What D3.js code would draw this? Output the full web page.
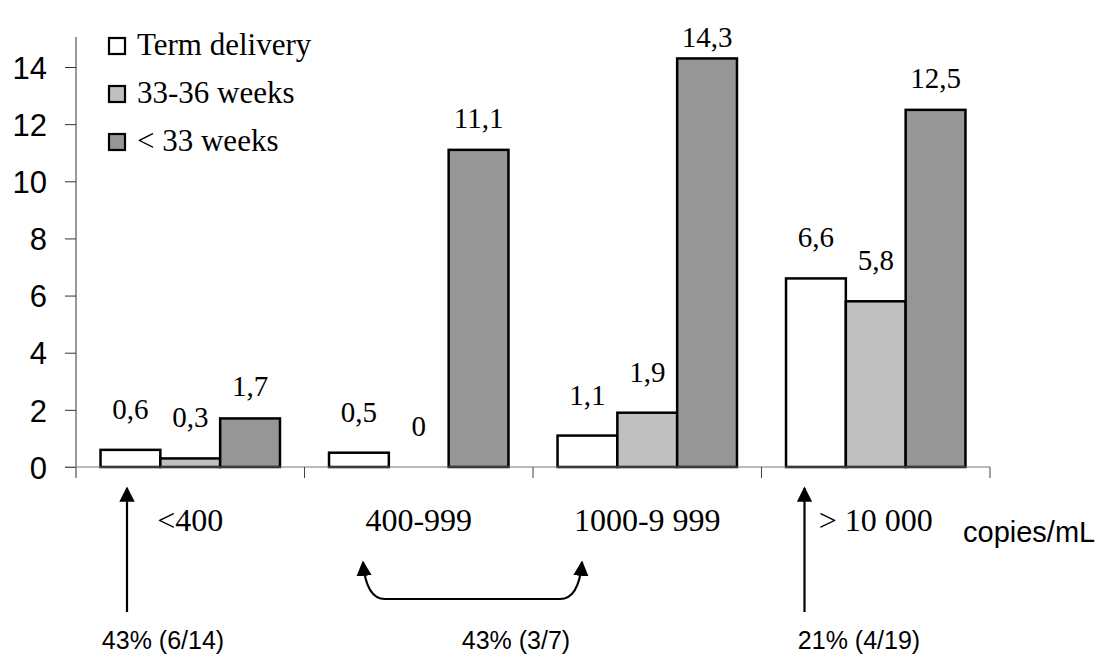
<!DOCTYPE html>
<html><head><meta charset="utf-8">
<script src="https://cdn.jsdelivr.net/npm/d3@7"></script>
<style>body{margin:0;background:#fff}svg{display:block}</style>
</head><body>
<svg id="c" width="1105" height="657"></svg>
<script>
const categories = ["<400", "400-999", "1000-9 999", "> 10 000"];
const seriesNames = ["Term delivery", "33-36 weeks", "< 33 weeks"];
const termDelivery = [0.6, 0.5, 1.1, 6.6];
const weeks33to36 = [0.3, 0, 1.9, 5.8];
const under33 = [1.7, 11.1, 14.3, 12.5];
const yTicks = [0, 2, 4, 6, 8, 10, 12, 14];
const annotations = ["43% (6/14)", "43% (3/7)", "21% (4/19)"];
const unitLabel = "copies/mL";
const colors = ["#ffffff", "#c0c0c0", "#969696"];

(function () {
const series = [termDelivery, weeks33to36, under33];
const svg = d3.select("#c");
const mLeft = 76, mRight = 990, mTop = 37, mBottom = 467;
const x = d3.scaleBand().domain(categories).range([mLeft, mRight]).paddingInner(0).paddingOuter(0);
const xs = d3.scaleBand().domain(d3.range(3)).range([0, x.bandwidth()]).paddingInner(0).paddingOuter(0.41);
const y = d3.scaleLinear().domain([0, 15.05]).range([mBottom, mTop]);
const serif = "'Liberation Serif','Times New Roman',serif";
const sans = "'Liberation Sans',Arial,sans-serif";
const fmt = v => v === 0 ? "0" : d3.format(".1f")(v).replace(".", ",");

// y axis
const yAxis = svg.append("g").attr("transform", `translate(${mLeft},0)`)
  .call(d3.axisLeft(y).tickValues(yTicks).tickSize(11).tickPadding(18).tickFormat(d3.format("d")));
yAxis.select(".domain").attr("d", `M0,${mTop}V${mBottom + 11}`).attr("stroke", "#333");
yAxis.selectAll(".tick line").attr("stroke", "#333");
yAxis.selectAll(".tick text").attr("font-family", sans).attr("font-size", 31).attr("fill", "#000")
  .attr("dy", "0.36em");

// bars
categories.forEach((c, ci) => {
  series.forEach((s, si) => {
    const v = s[ci];
    if (v > 0) {
      svg.append("rect")
        .attr("x", x(c) + xs(si)).attr("y", y(v))
        .attr("width", xs.bandwidth()).attr("height", y(0) - y(v))
        .attr("fill", colors[si]).attr("stroke", "#000").attr("stroke-width", 2.5);
    }
  });
});

// x axis
const bounds = d3.range(categories.length + 1).map(i => mLeft + i * x.bandwidth());
svg.append("line").attr("x1", mLeft - 11).attr("x2", mRight).attr("y1", mBottom).attr("y2", mBottom)
  .attr("stroke", "#777").attr("stroke-width", 1.2);
bounds.slice(1).forEach(b => svg.append("line").attr("x1", b).attr("x2", b)
  .attr("y1", mBottom).attr("y2", mBottom + 11).attr("stroke", "#444"));

// value labels
const labelGap = [31, 31, 22];
categories.forEach((c, ci) => {
  series.forEach((s, si) => {
    const v = s[ci];
    const ly = Math.max(y(v) - labelGap[si], mTop + 10);
    svg.append("text").attr("x", x(c) + xs(si) + xs.bandwidth() / 2).attr("y", ly)
      .attr("text-anchor", "middle").attr("font-family", serif).attr("font-size", 29)
      .text(fmt(v));
  });
});

// category labels
categories.forEach(c => {
  svg.append("text").attr("x", x(c) + x.bandwidth() / 2).attr("y", 531)
    .attr("text-anchor", "middle").attr("font-family", serif).attr("font-size", 32).text(c);
});
svg.append("text").attr("x", 963).attr("y", 542)
  .attr("font-family", sans).attr("font-size", 29).text(unitLabel);

// legend
seriesNames.forEach((n, i) => {
  const ly = 46 + i * 48;
  svg.append("rect").attr("x", 109).attr("y", ly - 8).attr("width", 16).attr("height", 16)
    .attr("fill", colors[i]).attr("stroke", "#000").attr("stroke-width", 2.2);
  svg.append("text").attr("x", 137).attr("y", ly + 9).attr("font-family", serif)
    .attr("font-size", 31).text(n);
});

// arrows
const defs = svg.append("defs");
defs.append("marker").attr("id", "ah").attr("viewBox", "0 0 10 10").attr("refX", 9).attr("refY", 5)
  .attr("markerWidth", 7).attr("markerHeight", 7).attr("orient", "auto-start-reverse")
  .attr("markerUnits", "strokeWidth")
  .append("path").attr("d", "M0,0L10,5L0,10z").attr("fill", "#000");
const arrowX = [x(categories[0]) + 51, x(categories[3]) + 43];
arrowX.forEach(ax => {
  svg.append("line").attr("x1", ax).attr("x2", ax).attr("y1", 612).attr("y2", 488)
    .attr("stroke", "#000").attr("stroke-width", 2.2).attr("marker-end", "url(#ah)");
});
const cx1 = 363, cx2 = 582;
svg.append("path").attr("d", `M${cx1},562 Q${cx1 + 3},599 ${cx1 + 22},599 L${cx2 - 22},599 Q${cx2 - 3},599 ${cx2},562`)
  .attr("fill", "none").attr("stroke", "#000").attr("stroke-width", 2.2)
  .attr("marker-start", "url(#ah)").attr("marker-end", "url(#ah)");

const annX = [163, 516, 859];
annotations.forEach((t, i) => {
  svg.append("text").attr("x", annX[i]).attr("y", 649).attr("text-anchor", "middle")
    .attr("font-family", sans).attr("font-size", 25).text(t);
});
})();
</script>
</body></html>
